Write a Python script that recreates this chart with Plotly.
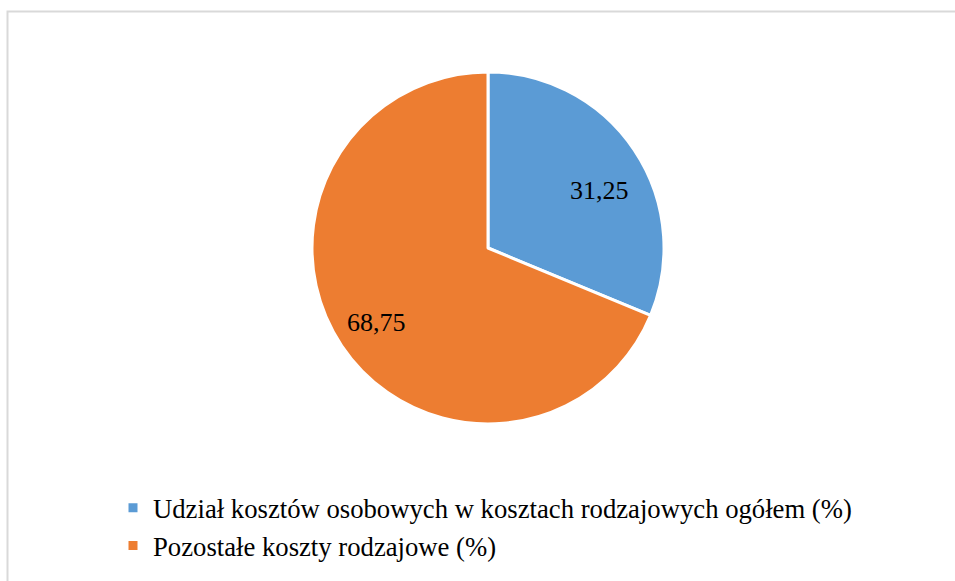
import math
import plotly.graph_objects as go

labels = ["Udział kosztów osobowych w kosztach rodzajowych ogółem (%)",
          "Pozostałe koszty rodzajowe (%)"]
values = [31.25, 68.75]
text_labels = ["31,25", "68,75"]
colors = ["#5B9BD5", "#ED7D31"]

W, H = 955, 581
cx, cy, r = 488, 248, 176
FONT = "Liberation Serif"

fig = go.Figure(go.Pie(
    labels=labels,
    values=values,
    textinfo="none",
    marker=dict(colors=colors, line=dict(color="white", width=3)),
    sort=False,
    direction="clockwise",
    rotation=0,
    hoverinfo="label+value",
    domain=dict(x=[(cx - r) / W, (cx + r) / W], y=[1 - (cy + r) / H, 1 - (cy - r) / H]),
))

# data labels placed at each slice's mid angle
total = sum(values)
acc = 0.0
annotations = []
for v, t in zip(values, text_labels):
    mid = (acc + v / 2) / total * 2 * math.pi
    acc += v
    d = 0.76 * r
    px = cx + d * math.sin(mid)
    py = cy - d * math.cos(mid)
    annotations.append(dict(x=px / W, y=1 - py / H, xref="paper", yref="paper",
                            text=t, showarrow=False,
                            font=dict(family=FONT, size=26, color="black")))

fig.update_layout(
    width=W, height=H,
    margin=dict(l=0, r=0, t=0, b=0),
    paper_bgcolor="white",
    plot_bgcolor="white",
    showlegend=True,
    annotations=annotations,
    legend=dict(
        x=113 / W, y=1 - 484 / H, xanchor="left", yanchor="top",
        font=dict(family=FONT, size=26.7, color="black"),
        tracegroupgap=0,
        bgcolor="rgba(0,0,0,0)",
    ),
    shapes=[dict(type="rect", xref="paper", yref="paper",
                 x0=7.5 / W, x1=1.05, y0=-0.05, y1=1 - 11.5 / H,
                 line=dict(color="#d9d9d9", width=2), fillcolor="rgba(0,0,0,0)",
                 layer="below")],
)

fig.write_html("out.html")
